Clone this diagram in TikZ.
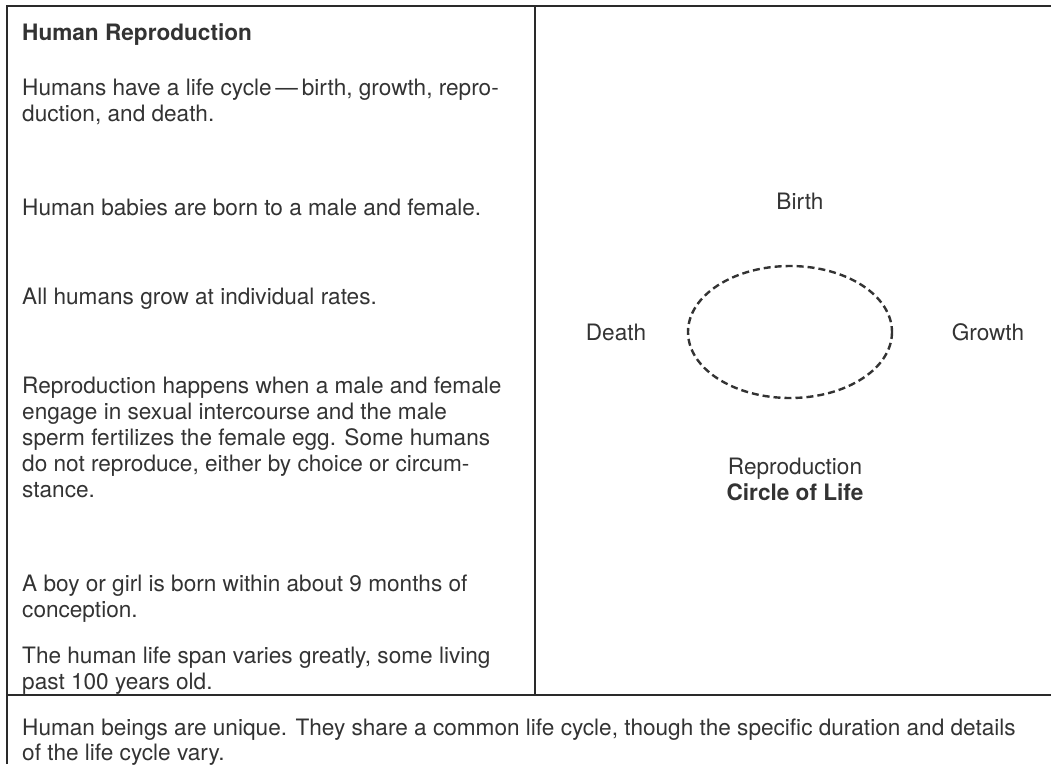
\documentclass[tikz,border=0pt]{standalone}
\usepackage{fontspec}
\setmainfont{TeX Gyre Heros}
\begin{document}
\begin{tikzpicture}[x=1pt,y=-1pt,
  every node/.style={inner sep=0pt, text=ink},
  line/.style={anchor=base west, font=\fontsize{22.6}{26}\selectfont},
  head/.style={anchor=base west, font=\fontsize{22.6}{26}\selectfont\bfseries},
  label/.style={anchor=base, font=\fontsize{22.6}{26}\selectfont},
  rule/.style={draw=frame, line width=1.4pt},
  cycle/.style={draw=ink, line width=2.4pt, dash pattern=on 7pt off 4pt}]
\definecolor{ink}{HTML}{333333}
\definecolor{frame}{HTML}{2A2A2A}
\useasboundingbox (0,0) rectangle (1051,764);

% table rules
\coordinate (tl) at (7,6);
\coordinate (tr) at (1051,6);
\coordinate (bl) at (7,764);
\coordinate (mt) at (535,6);
\coordinate (mb) at (535,695);
\coordinate (hl) at (7,695);
\coordinate (hr) at (1051,695);
\draw[rule] (bl) -- (tl) -- (tr);
\draw[rule] (mt) -- (mb);
\draw[rule] (hl) -- (hr);

% left column
\node[head] (title) at (22,40) {Human Reproduction};
\node[line] (p1a) at (22,95) {Humans have a life cycle\,—\,birth, growth, repro-};
\node[line] (p1b) at (22,121) {duction, and death.};
\node[line] (p2) at (22,215) {Human babies are born to a male and female.};
\node[line] (p3) at (22,304) {All humans grow at individual rates.};
\node[line] (p4a) at (22,393) {Reproduction happens when a male and female};
\node[line] (p4b) at (22,419) {engage in sexual intercourse and the male};
\node[line] (p4c) at (22,445) {sperm fertilizes the female egg. Some humans};
\node[line] (p4d) at (22,471) {do not reproduce, either by choice or circum-};
\node[line] (p4e) at (22,497) {stance.};
\node[line] (p5a) at (22,591) {A boy or girl is born within about 9 months of};
\node[line] (p5b) at (22,617) {conception.};
\node[line] (p6a) at (22,663) {The human life span varies greatly, some living};
\node[line] (p6b) at (22,689) {past 100 years old.};

% summary row
\node[line] (s1) at (22,735) {Human beings are unique. They share a common life cycle, though the specific duration and details};
\node[line] (s2) at (22,760) {of the life cycle vary.};

% circle of life
\draw[cycle] (790,332) ellipse [x radius=102, y radius=66];
\node[label] (birth) at (800,209) {Birth};
\node[label] (death) at (616,340) {Death};
\node[label] (growth) at (988,340) {Growth};
\node[label] (repro) at (795,474) {Reproduction};
\node[label, font=\fontsize{22.6}{26}\selectfont\bfseries] (col) at (795,500) {Circle of Life};
\end{tikzpicture}
\end{document}
